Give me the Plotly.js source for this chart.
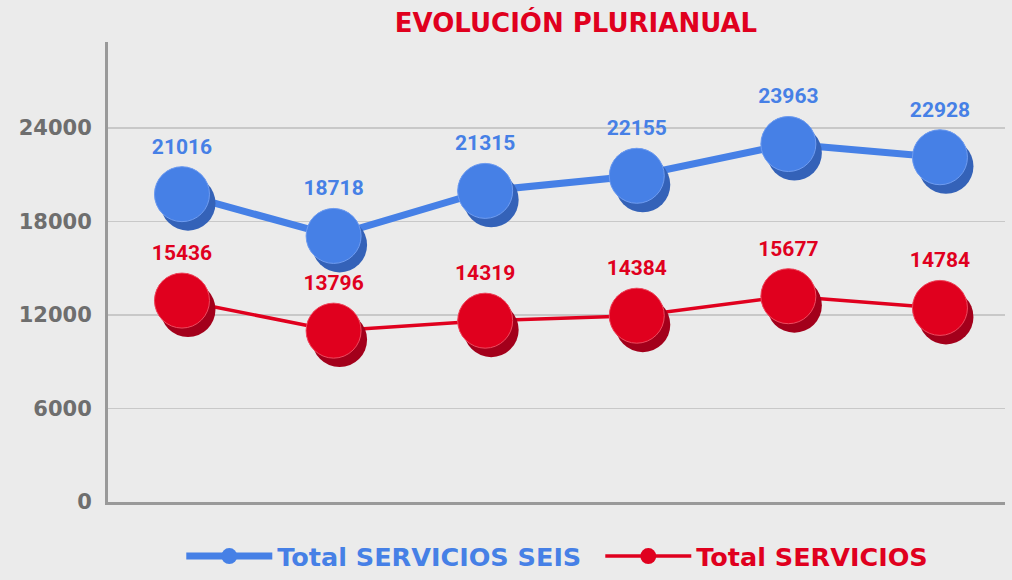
<!DOCTYPE html>
<html>
<head>
<meta charset="utf-8">
<script src="https://cdn.plot.ly/plotly-3.0.1.min.js"></script>
<style>html,body{margin:0;padding:0;background:#ebebeb;}</style>
</head>
<body>
<div id="chart" style="width:1012px;height:580px;"></div>
<script>
// ---- data ----
const categories = ['P1', 'P2', 'P3', 'P4', 'P5', 'P6'];
const seriesNames = ['Total SERVICIOS SEIS', 'Total SERVICIOS'];
// plotted positions as read against the value axis
const seisValues = [19760, 17080, 19970, 20940, 22980, 22130];
const totalValues = [12930, 11000, 11640, 11960, 13210, 12460];
// data labels printed on the chart
const seisLabels = [21016, 18718, 21315, 22155, 23963, 22928];
const totalLabels = [15436, 13796, 14319, 14384, 15677, 14784];
const tickVals = [0, 6000, 12000, 18000, 24000];
const tickText = ['0', '6000', '12000', '18000', '24000'];
const chartTitle = 'EVOLUCIÓN PLURIANUAL';

// ---- layout geometry / styles ----
const W = 1012, H = 580, ML = 108, MR = 0, MT = 42, MB = 68;
const PW = W - ML - MR, PH = H - MT - MB;
const padR = 7, padB = 9;       // px reserved so the shadow layer can shift
const shX = 6, shY = 9;         // shadow offset in px
const xMain = [0, (PW - padR) / PW];
const yMain = [padB / PH, 1];
const xShadow = [shX / PW, (PW - padR + shX) / PW];
const yShadow = [(padB - shY) / PH, 1 - shY / PH];
const xRange = [-0.488, 5.429];
const yRange = [0, 29527];

const colors = {
  blue: '#4680e6', blueDark: '#3462b8', blueRim: '#6f9cf0',
  red: '#e0001e', redDark: '#a3001b', redRim: '#ee4a5f'
};
const MS = 55;

function lineTrace(vals, name, color, width, legendWidth) {
  const t = {
    x: categories, y: vals, type: 'scatter', mode: 'lines+markers',
    name: '<span style="color:' + color + '">' + name + '</span>',
    line: {color: color, width: width},
    marker: {size: MS, color: color},
    xaxis: 'x', yaxis: 'y', hoverinfo: 'skip'
  };
  if (legendWidth) t.legendwidth = legendWidth;
  return t;
}
function shadowTrace(vals, color) {
  return {
    x: categories, y: vals, type: 'scatter', mode: 'markers',
    marker: {size: MS, color: color}, showlegend: false,
    xaxis: 'x2', yaxis: 'y2', hoverinfo: 'skip'
  };
}
function faceTrace(vals, labels, color, rim) {
  return {
    x: categories, y: vals, type: 'scatter', mode: 'markers+text',
    text: labels.map(String), textposition: 'top center',
    textfont: {family: 'Roboto', size: 21, weight: 'bold', color: color},
    marker: {size: MS, color: color, line: {width: 1, color: rim}},
    showlegend: false, xaxis: 'x3', yaxis: 'y3', hoverinfo: 'skip', cliponaxis: false
  };
}

const data = [
  lineTrace(seisValues, seriesNames[0], colors.blue, 7, 318),
  lineTrace(totalValues, seriesNames[1], colors.red, 3.5),
  shadowTrace(seisValues, colors.blueDark),
  shadowTrace(totalValues, colors.redDark),
  faceTrace(seisValues, seisLabels, colors.blue, colors.blueRim),
  faceTrace(totalValues, totalLabels, colors.red, colors.redRim)
];

const hiddenX = {range: xRange, type: 'category', visible: false, fixedrange: true};
const hiddenY = {range: yRange, visible: false, fixedrange: true};

const layout = {
  width: W, height: H,
  margin: {l: ML, r: MR, t: MT, b: MB, pad: 0},
  paper_bgcolor: '#ebebeb', plot_bgcolor: 'rgba(0,0,0,0)',
  title: {
    text: chartTitle,
    font: {family: 'DejaVu Sans', size: 26, weight: 'bold', color: colors.red},
    xref: 'container', yref: 'container',
    x: 576 / W, xanchor: 'center', y: 1 - 22.5 / H, yanchor: 'middle'
  },
  showlegend: true,
  legend: {
    orientation: 'h', x: 0.497, xanchor: 'center', y: -0.098, yanchor: 'middle',
    font: {family: 'DejaVu Sans', size: 25.5, weight: 'bold'},
    bgcolor: 'rgba(0,0,0,0)', itemwidth: 86, itemsizing: 'trace', itemclick: false
  },
  xaxis: {
    domain: xMain, range: xRange, type: 'category', showgrid: false,
    showticklabels: false, ticks: '', showline: true, linecolor: '#999999',
    linewidth: 3, zeroline: false, fixedrange: true
  },
  yaxis: {
    domain: yMain, range: yRange, tickvals: tickVals, ticktext: tickText,
    showgrid: true, gridcolor: '#c8c8c8', gridwidth: 1.4,
    showline: true, linecolor: '#999999', linewidth: 3, zeroline: false,
    ticks: '', ticklabelstandoff: 9,
    tickfont: {family: 'DejaVu Sans', size: 21, weight: 'bold', color: '#6e6e6e'},
    fixedrange: true
  },
  xaxis2: Object.assign({}, hiddenX, {domain: xShadow, anchor: 'y2'}),
  yaxis2: Object.assign({}, hiddenY, {domain: yShadow, anchor: 'x2'}),
  xaxis3: Object.assign({}, hiddenX, {domain: xMain, anchor: 'y3'}),
  yaxis3: Object.assign({}, hiddenY, {domain: yMain, anchor: 'x3'}),
  hovermode: false
};

Plotly.newPlot('chart', data, layout, {displayModeBar: false, staticPlot: true});
</script>
</body>
</html>
